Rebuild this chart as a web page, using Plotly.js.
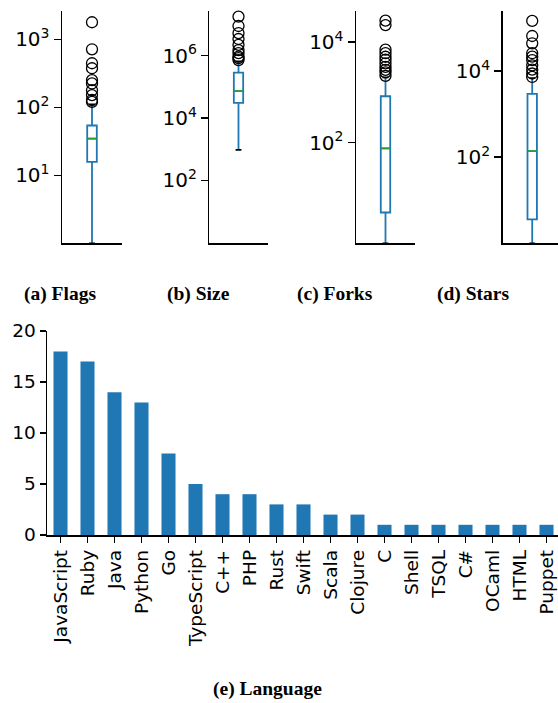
<!DOCTYPE html>
<html>
<head>
<meta charset="utf-8">
<script src="https://cdn.plot.ly/plotly-3.0.1.min.js"></script>
<style>html,body{margin:0;padding:0;background:#fff;}#chart{width:558px;height:703px;}</style>
</head>
<body>
<div id="chart"></div>
<script>
// ---- Box plot data (precomputed statistics) ----
const boxNames = ['Flags', 'Size', 'Forks', 'Stars'];
const boxQ1 = [15.7, 30500, 4.1, 3.6];
const boxMedian = [34.7, 72300, 77, 138];
const boxQ3 = [54, 285000, 840, 2920];
const boxLowerFence = [1, 942, 1, 1];
const boxUpperFence = [110, 650000, 2000, 6800];
const flagsOutliers = [1780, 713, 444, 375, 251, 224, 178, 151, 128, 120];
const sizeOutliers = [17800000, 8900000, 5250000, 3400000, 2200000, 1500000, 1200000, 930000, 830000, 720000];
const forksOutliers = [26900, 21900, 7080, 6030, 5130, 4470, 3800, 3240, 2820, 2510, 2140];
const starsOutliers = [144500, 64600, 43700, 25700, 21400, 17800, 13500, 10700, 8700, 7240];
const boxOutliers = [flagsOutliers, sizeOutliers, forksOutliers, starsOutliers];
const boxTickVals = [[10, 100, 1000], [100, 10000, 1000000], [100, 10000], [100, 10000]];
const boxTickText = [
  ['10<sup>1</sup>', '10<sup>2</sup>', '10<sup>3</sup>'],
  ['10<sup>2</sup>', '10<sup>4</sup>', '10<sup>6</sup>'],
  ['10<sup>2</sup>', '10<sup>4</sup>'],
  ['10<sup>2</sup>', '10<sup>4</sup>']
];
const boxCaptions = ['(a) Flags', '(b) Size', '(c) Forks', '(d) Stars'];

// ---- Bar chart data ----
const languages = ['JavaScript', 'Ruby', 'Java', 'Python', 'Go', 'TypeScript', 'C++', 'PHP', 'Rust', 'Swift',
  'Scala', 'Clojure', 'C', 'Shell', 'TSQL', 'C#', 'OCaml', 'HTML', 'Puppet'];
const languageCounts = [18, 17, 14, 13, 8, 5, 4, 4, 3, 3, 2, 2, 1, 1, 1, 1, 1, 1, 1];
const barCaption = '(e) Language';

// ---- Layout geometry (pixels) ----
const W = 558, H = 703;
const boxXpx = [[62, 122], [209.3, 267.7], [356, 415], [502.7, 558]];
const boxXrange = [[-0.5, 0.5], [-0.5, 0.5], [-0.5, 0.5], [-0.5, 0.437]];
const boxYpx = [11, 243.3];
const boxYrange = [[0, 3.416], [-0.02, 7.43], [0, 4.62], [0, 5.39]];
const captionX = [60, 198, 335, 472.5];
const captionY = 293.5;

const blue = '#1f77b4', green = '#2ca02c';
const tickFont = {family: 'DejaVu Sans', size: 20, color: '#000'};
const capFont = {family: 'Liberation Serif', size: 19.5, color: '#000'};

const traces = [];
const layout = {
  width: W, height: H,
  margin: {l: 0, r: 0, t: 0, b: 0, pad: 0},
  paper_bgcolor: '#fff', plot_bgcolor: '#fff',
  showlegend: false, hovermode: false,
  annotations: []
};

function degenerateBox(name, value, xa, ya, color, width) {
  return {
    type: 'box', orientation: 'v', x: [name],
    q1: [value], median: [value], q3: [value], lowerfence: [value], upperfence: [value],
    width: width, whiskerwidth: 0, boxpoints: false,
    line: {color: color, width: 1.8}, fillcolor: 'rgba(0,0,0,0)',
    xaxis: xa, yaxis: ya, hoverinfo: 'skip'
  };
}

boxNames.forEach((name, i) => {
  const n = i + 1;
  const xa = 'x' + n, ya = 'y' + n;
  traces.push({
    type: 'box', orientation: 'v', x: [name],
    q1: [boxQ1[i]], median: [boxMedian[i]], q3: [boxQ3[i]],
    lowerfence: [boxLowerFence[i]], upperfence: [boxUpperFence[i]],
    width: 0.16, whiskerwidth: 0, boxpoints: false,
    line: {color: blue, width: 1.8}, fillcolor: 'rgba(0,0,0,0)',
    xaxis: xa, yaxis: ya, hoverinfo: 'skip'
  });
  traces.push(degenerateBox(name, boxLowerFence[i], xa, ya, '#000', 0.1));
  traces.push(degenerateBox(name, boxUpperFence[i], xa, ya, '#000', 0.1));
  traces.push(degenerateBox(name, boxMedian[i], xa, ya, green, 0.16));
  traces.push({
    type: 'scatter', mode: 'markers',
    x: boxOutliers[i].map(() => name), y: boxOutliers[i],
    marker: {symbol: 'circle-open', size: 11, color: '#000', line: {width: 1.3, color: '#000'}},
    xaxis: xa, yaxis: ya, hoverinfo: 'skip', cliponaxis: false
  });
  layout['xaxis' + n] = {
    domain: [boxXpx[i][0] / W, boxXpx[i][1] / W],
    anchor: ya, type: 'category', range: boxXrange[i],
    showline: true, linecolor: '#000', linewidth: 1.5,
    showticklabels: false, ticks: '', showgrid: false, zeroline: false, fixedrange: true
  };
  layout['yaxis' + n] = {
    domain: [1 - boxYpx[1] / H, 1 - boxYpx[0] / H],
    anchor: xa, type: 'log', range: boxYrange[i],
    tickmode: 'array', tickvals: boxTickVals[i], ticktext: boxTickText[i],
    ticks: 'outside', ticklen: 7, tickwidth: 1.5, tickcolor: '#000',
    showline: true, linecolor: '#000', linewidth: 1.5,
    showgrid: false, zeroline: false, tickfont: tickFont, fixedrange: true
  };
  layout.annotations.push({
    text: '<b>' + boxCaptions[i] + '</b>', xref: 'paper', yref: 'paper',
    x: captionX[i] / W, y: 1 - captionY / H, xanchor: 'center', yanchor: 'middle',
    showarrow: false, font: capFont
  });
});

// Bar chart
traces.push({
  type: 'bar', x: languages, y: languageCounts, width: 0.52,
  marker: {color: blue, line: {width: 0}},
  xaxis: 'x5', yaxis: 'y5', hoverinfo: 'skip'
});
layout.xaxis5 = {
  domain: [47 / W, 1], anchor: 'y5', type: 'category', range: [-0.5, 18.426],
  tickangle: -90, ticks: 'outside', ticklen: 6, tickwidth: 1.5, tickcolor: '#000',
  showline: true, linecolor: '#000', linewidth: 1.5, showgrid: false, zeroline: false,
  tickfont: {family: 'DejaVu Sans', size: 18.5, color: '#000'}, fixedrange: true
};
layout.yaxis5 = {
  domain: [1 - 535 / H, 1 - 331 / H], anchor: 'x5', range: [0, 20],
  tickmode: 'linear', tick0: 0, dtick: 5,
  ticks: 'outside', ticklen: 6, tickwidth: 1.5, tickcolor: '#000',
  showline: true, linecolor: '#000', linewidth: 1.5, showgrid: false, zeroline: false,
  tickfont: {family: 'DejaVu Sans', size: 18.5, color: '#000'}, fixedrange: true
};
layout.annotations.push({
  text: '<b>' + barCaption + '</b>', xref: 'paper', yref: 'paper',
  x: 267 / W, y: 1 - 689 / H, xanchor: 'center', yanchor: 'middle',
  showarrow: false, font: capFont
});

Plotly.newPlot('chart', traces, layout, {staticPlot: true, displayModeBar: false});
</script>
</body>
</html>
